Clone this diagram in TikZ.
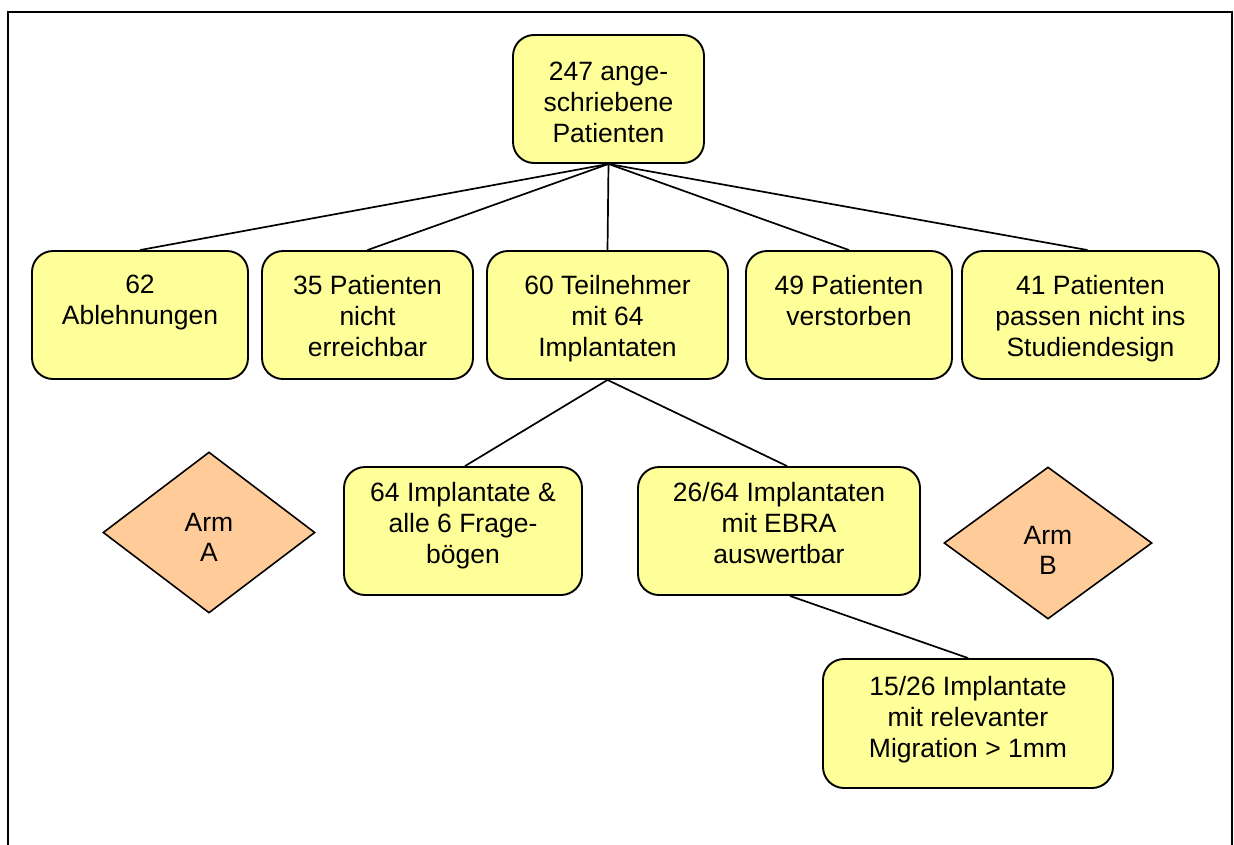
\documentclass[tikz,border=0pt]{standalone}
\usepackage{fontspec}
\setmainfont{Liberation Sans}
\usetikzlibrary{shapes.geometric,calc}
\definecolor{boxyellow}{RGB}{255,255,153}
\definecolor{armorange}{RGB}{255,204,153}
\begin{document}
\begin{tikzpicture}[x=1pt,y=-1pt,
  box/.style={draw=black, line width=1.9pt, fill=boxyellow, rounded corners=21pt, minimum height=128pt, inner sep=0pt},
  arm/.style={diamond, draw=black, line width=1.6pt, fill=armorange, inner sep=0pt},
  txt/.style={anchor=north, align=center, inner sep=0pt, font=\fontsize{26.5}{31}\selectfont},
  armtxt/.style={anchor=center, align=center, inner sep=0pt, font=\fontsize{26.5}{30}\selectfont},
  link/.style={draw=black, line width=1.7pt},
  frame/.style={draw=black, line width=1.7pt}]
\useasboundingbox (0,0) rectangle (1234,844);
\draw[frame] (8,846) -- (8,12) -- (1232,12) -- (1232,846);

% boxes
\node[box, minimum width=191pt] (top) at (608.5,99) {};
\node[box, minimum width=216pt] (b1) at (140,315) {};
\node[box, minimum width=211pt] (b2) at (367.5,315) {};
\node[box, minimum width=241pt] (b3) at (607.5,315) {};
\node[box, minimum width=206pt] (b4) at (849,315) {};
\node[box, minimum width=257pt] (b5) at (1090.5,315) {};
\node[box, minimum width=238pt] (b64) at (463,531) {};
\node[box, minimum width=282pt] (b26) at (779,531) {};
\node[box, minimum width=290pt, minimum height=129pt] (bmig) at (968,723.5) {};

% diamonds
\node[arm, minimum width=212pt, minimum height=161pt] (armA) at (209,532.5) {};
\node[arm, minimum width=208pt, minimum height=152pt] (armB) at (1048,543) {};
\node[armtxt] (tA) at (209,537) {Arm\\A};
\node[armtxt] (tB) at (1048,550) {Arm\\B};

% texts
\node[txt] (ttop) at (608.5,61.5) {247 ange-\\schriebene\\Patienten};
\node[txt] (t1) at (140,275) {62\\Ablehnungen};
\node[txt] (t2) at (367.5,275) {35 Patienten\\nicht\\erreichbar};
\node[txt] (t3) at (607.5,275) {60 Teilnehmer\\mit 64\\Implantaten};
\node[txt] (t4) at (849,275) {49 Patienten\\verstorben};
\node[txt] (t5) at (1090.5,275) {41 Patienten\\passen nicht ins\\Studiendesign};
\node[txt] (t64) at (463,482) {64 Implantate \&\\alle 6 Frage-\\bögen};
\node[txt] (t26) at (779,482) {26/64 Implantaten\\mit EBRA\\auswertbar};
\node[txt] (tmig) at (968,676) {15/26 Implantate\\mit relevanter\\Migration > 1mm};

% connectors
\draw[link] (top.south) -- (b1.north);
\draw[link] (top.south) -- (b2.north);
\draw[link] (top.south) -- (b3.north);
\draw[link] (top.south) -- (b4.north);
\draw[link] (top.south) -- ([xshift=-3pt]b5.north);
\draw[link] (b3.south) -- ([xshift=2pt]b64.north);
\draw[link] (b3.south) -- ([xshift=8pt]b26.north);
\draw[link] ([xshift=11pt]b26.south) -- (bmig.north);
\end{tikzpicture}
\end{document}
